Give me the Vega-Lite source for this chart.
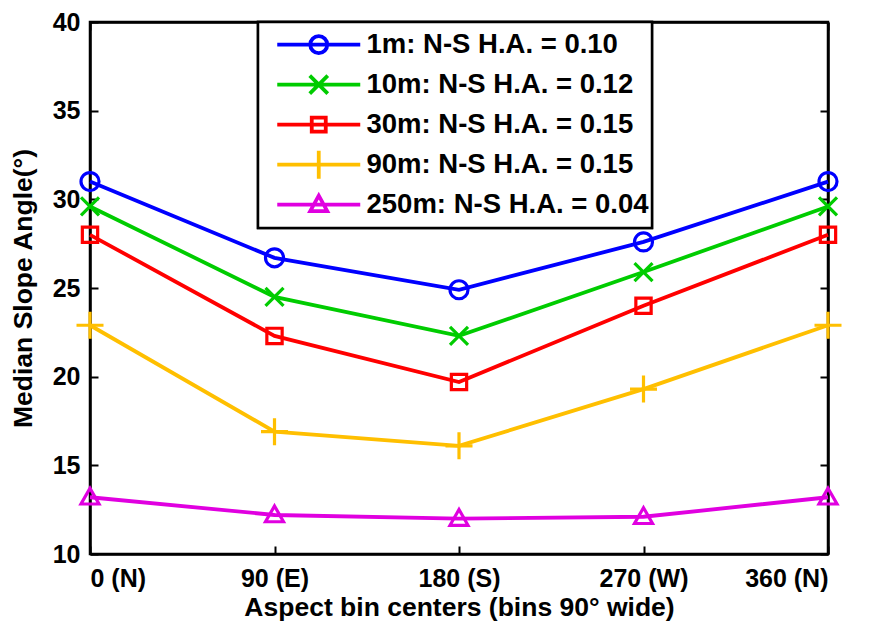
{
  "$schema": "https://vega.github.io/schema/vega-lite/v6.json",
  "width": 738,
  "height": 532,
  "autosize": {"type": "none"},
  "padding": {"left": 90, "top": 22, "right": 51, "bottom": 72},
  "background": "white",
  "config": {
    "font": "Liberation Sans",
    "view": {"stroke": "black", "strokeWidth": 2.5},
    "legend": {"strokeWidth": 2.5},
    "axis": {
      "domainColor": "black", "domainWidth": 2.5, "tickColor": "black", "tickWidth": 2,
      "grid": false, "labelFont": "Liberation Sans", "labelFontWeight": "bold", "labelFontSize": 25,
      "labelColor": "black", "titleFont": "Liberation Sans", "titleFontWeight": "bold", "titleFontSize": 26.5, "titleColor": "black"
    }
  },
  "data": {"values": [
    {"series": "1m:  N-S H.A. = 0.10", "aspect": 0, "angle": 31.0},
    {"series": "1m:  N-S H.A. = 0.10", "aspect": 90, "angle": 26.7},
    {"series": "1m:  N-S H.A. = 0.10", "aspect": 180, "angle": 24.9},
    {"series": "1m:  N-S H.A. = 0.10", "aspect": 270, "angle": 27.6},
    {"series": "1m:  N-S H.A. = 0.10", "aspect": 360, "angle": 31.0},
    {"series": "10m: N-S H.A. = 0.12", "aspect": 0, "angle": 29.6},
    {"series": "10m: N-S H.A. = 0.12", "aspect": 90, "angle": 24.5},
    {"series": "10m: N-S H.A. = 0.12", "aspect": 180, "angle": 22.3},
    {"series": "10m: N-S H.A. = 0.12", "aspect": 270, "angle": 25.9},
    {"series": "10m: N-S H.A. = 0.12", "aspect": 360, "angle": 29.6},
    {"series": "30m: N-S H.A. = 0.15", "aspect": 0, "angle": 28.0},
    {"series": "30m: N-S H.A. = 0.15", "aspect": 90, "angle": 22.3},
    {"series": "30m: N-S H.A. = 0.15", "aspect": 180, "angle": 19.7},
    {"series": "30m: N-S H.A. = 0.15", "aspect": 270, "angle": 24.0},
    {"series": "30m: N-S H.A. = 0.15", "aspect": 360, "angle": 28.0},
    {"series": "90m: N-S H.A. = 0.15", "aspect": 0, "angle": 22.9},
    {"series": "90m: N-S H.A. = 0.15", "aspect": 90, "angle": 16.9},
    {"series": "90m: N-S H.A. = 0.15", "aspect": 180, "angle": 16.1},
    {"series": "90m: N-S H.A. = 0.15", "aspect": 270, "angle": 19.3},
    {"series": "90m: N-S H.A. = 0.15", "aspect": 360, "angle": 22.9},
    {"series": "250m: N-S H.A. = 0.04", "aspect": 0, "angle": 13.2},
    {"series": "250m: N-S H.A. = 0.04", "aspect": 90, "angle": 12.2},
    {"series": "250m: N-S H.A. = 0.04", "aspect": 180, "angle": 12.0},
    {"series": "250m: N-S H.A. = 0.04", "aspect": 270, "angle": 12.1},
    {"series": "250m: N-S H.A. = 0.04", "aspect": 360, "angle": 13.2}
  ]},
  "layer": [
    {
      "mark": {"type": "line", "strokeWidth": 3.8},
      "encoding": {
        "x": {"field": "aspect", "type": "quantitative",
          "scale": {"domain": [0, 360], "nice": false, "zero": false},
          "axis": {"values": [0, 90, 180, 270, 360], "tickSize": -8, "labelPadding": 20,
            "labelExpr": "datum.value == 0 ? '0 (N)' : datum.value == 90 ? '90 (E)' : datum.value == 180 ? '180 (S)' : datum.value == 270 ? '270 (W)' : '360 (N)'",
            "title": "Aspect bin centers (bins 90° wide)", "titlePadding": 3}},
        "y": {"field": "angle", "type": "quantitative",
          "scale": {"domain": [10, 40], "nice": false, "zero": false},
          "axis": {"values": [10, 15, 20, 25, 30, 35, 40], "tickSize": -8, "labelPadding": 18,
            "title": "Median Slope Angle(°)", "titlePadding": 15}},
        "color": {"field": "series", "type": "nominal",
          "scale": {
            "domain": ["1m:  N-S H.A. = 0.10", "10m: N-S H.A. = 0.12", "30m: N-S H.A. = 0.15", "90m: N-S H.A. = 0.15", "250m: N-S H.A. = 0.04"],
            "range": ["#0000ff", "#00cc00", "#ff0000", "#ffbf00", "#e000e0"]}}
      }
    },
    {
      "mark": {"type": "point", "filled": false, "strokeWidth": 3.2, "size": 324, "opacity": 1},
      "encoding": {
        "x": {"field": "aspect", "type": "quantitative",
          "axis": {"orient": "top", "values": [0, 90, 180, 270, 360], "tickSize": -8, "labels": false, "title": null}},
        "y": {"field": "angle", "type": "quantitative",
          "axis": {"orient": "right", "values": [10, 15, 20, 25, 30, 35, 40], "tickSize": -8, "labels": false, "title": null}},
        "color": {"field": "series", "type": "nominal"},
        "shape": {"field": "series", "type": "nominal",
          "scale": {
            "domain": ["1m:  N-S H.A. = 0.10", "10m: N-S H.A. = 0.12", "30m: N-S H.A. = 0.15", "90m: N-S H.A. = 0.15", "250m: N-S H.A. = 0.04"],
            "range": ["M-1,0A1,1 0 1,1 1,0A1,1 0 1,1 -1,0", "M-1,-1L1,1M-1,1L1,-1", "M-0.85,-0.85H0.85V0.85H-0.85Z", "M-1.5,0H1.5M0,-1.5V1.5", "M0,-1L1,0.75H-1Z"]},
          "legend": null}
      }
    },
    {
      "transform": [{"filter": "datum.angle < 0"}],
      "mark": {"type": "point", "filled": false, "strokeWidth": 3.8, "opacity": 1},
      "encoding": {
        "color": {"field": "series", "type": "nominal",
          "legend": {
            "title": null, "orient": "none", "legendX": 168, "legendY": 0,
            "strokeColor": "black", "fillColor": "white", "padding": 3,
            "symbolSize": 100, "symbolOffset": 44, "labelOffset": 34, "rowPadding": 0, "clipHeight": 39.3,
            "labelFont": "Liberation Sans", "labelFontWeight": "bold", "labelFontSize": 27.5, "labelColor": "black", "labelLimit": 500,
            "symbolStrokeWidth": 3.8, "symbolFillColor": "transparent",
            "symbolStrokeColor": {"expr": "scale('color', datum.value)"}
          }},
        "shape": {"field": "series", "type": "nominal",
          "scale": {
            "domain": ["1m:  N-S H.A. = 0.10", "10m: N-S H.A. = 0.12", "30m: N-S H.A. = 0.15", "90m: N-S H.A. = 0.15", "250m: N-S H.A. = 0.04"],
            "range": ["M-8.3,0H8.3M-1.7,0A1.7,1.7 0 1,1 1.7,0A1.7,1.7 0 1,1 -1.7,0", "M-8.3,0H8.3M-1.8,-1.8L1.8,1.8M-1.8,1.8L1.8,-1.8", "M-8.3,0H8.3M-1.4,-1.4H1.4V1.4H-1.4Z", "M-8.3,0H8.3M0,-2.8V2.8", "M-8.3,0H8.3M0,-1.8L1.7,1.3H-1.7Z"]},
          "legend": {
            "title": null, "orient": "none", "legendX": 168, "legendY": 0,
            "strokeColor": "black", "fillColor": "white", "padding": 3,
            "symbolSize": 100, "symbolOffset": 44, "labelOffset": 34, "rowPadding": 0, "clipHeight": 39.3,
            "labelFont": "Liberation Sans", "labelFontWeight": "bold", "labelFontSize": 27.5, "labelColor": "black", "labelLimit": 500,
            "symbolStrokeWidth": 3.8, "symbolFillColor": "transparent",
            "symbolStrokeColor": {"expr": "scale('color', datum.value)"}
          }}
      }
    }
  ],
  "resolve": {"axis": {"x": "independent", "y": "independent"}, "scale": {"shape": "independent"}}
}
